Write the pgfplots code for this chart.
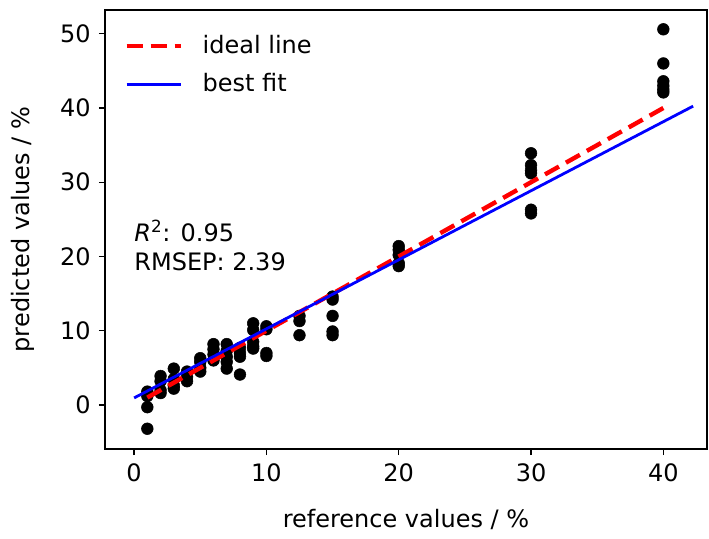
\documentclass[border=0pt]{standalone}
\usepackage{pgfplots}
\pgfplotsset{compat=1.18}
\usepackage{fontspec}
\setmainfont{DejaVu Sans}
\begin{document}
\fontsize{18}{21}\selectfont
\begin{tikzpicture}
\begin{axis}[
  name=ax,
  scale only axis,
  width=451.5pt, height=329.25pt,
  xmin=-2.2, xmax=43.3,
  ymin=-5.93, ymax=53.2,
  clip marker paths=true,
  xtick={0,10,20,30,40},
  ytick={0,10,20,30,40,50},
  tick align=outside,
  tick pos=left,
  major tick length=4.5pt,
  every tick/.style={black, line width=1pt},
  axis line style={line width=1.2pt},
  /pgf/number format/assume math mode=true,
  tick label style={font=\fontsize{18}{21}\selectfont},
  label style={font=\fontsize{18}{21}\selectfont},
  xlabel={reference values / \%},
  ylabel={predicted values / \%},
  xlabel style={yshift=-9pt},
  ylabel style={yshift=7pt},
  legend style={draw=none, fill=none, at={(0.025,0.955)}, anchor=north west,
    font=\fontsize{18}{21}\selectfont, row sep=8pt},
  legend cell align=left,
  legend image code/.code={\draw[#1] (0pt,0pt) -- (41pt,0pt);},
]
\addplot[only marks, mark=*, mark size=4.4pt, black, forget plot] coordinates {
(1,1.8) (1,1.2) (1,-0.3) (1,-3.2)
(2,3.9) (2,3.2) (2,2.0) (2,1.6)
(3,4.9) (3,3.5) (3,2.6) (3,2.2)
(4,4.5) (4,3.8) (4,3.2)
(5,6.3) (5,5.8) (5,5.0) (5,4.5)
(6,8.2) (6,7.5) (6,6.8) (6,6.0)
(7,8.2) (7,7.3) (7,6.5) (7,5.8) (7,4.9)
(8,7.7) (8,7.0) (8,6.5) (8,4.1)
(9,11.0) (9,10.1) (9,8.5) (9,7.9) (9,7.6)
(10,10.6) (10,10.2) (10,7.0) (10,6.6)
(12.5,12.0) (12.5,11.3) (12.5,9.4)
(15,14.6) (15,14.2) (15,12.0) (15,9.9) (15,9.4)
(20,21.4) (20,20.9) (20,20.2) (20,19.1) (20,18.7)
(30,33.9) (30,32.3) (30,31.6) (30,31.2) (30,26.3) (30,25.8)
(40,50.6) (40,46.0) (40,43.6) (40,43.0) (40,42.5) (40,42.1)
};
\addplot[red, line width=3.3pt, dash pattern=on 12pt off 6pt] coordinates {(1,1) (40,40)};
\addlegendentry{\hspace{12.5pt}ideal line}
\addplot[blue, line width=2.1pt] coordinates {(0,0.95) (42.25,40.25)};
\addlegendentry{\hspace{12.5pt}best fit}
\node[anchor=north west, inner sep=0pt, align=left, font=\fontsize{18}{21.75}\selectfont]
  at (axis cs:0,24.9) {\textit{R}\textsuperscript{2}: 0.95\\RMSEP: 2.39};
\end{axis}
\path[use as bounding box] ([xshift=-78.75pt,yshift=-63pt]ax.south west) rectangle ([xshift=1.5pt,yshift=7.5pt]ax.north east);
\end{tikzpicture}
\end{document}
